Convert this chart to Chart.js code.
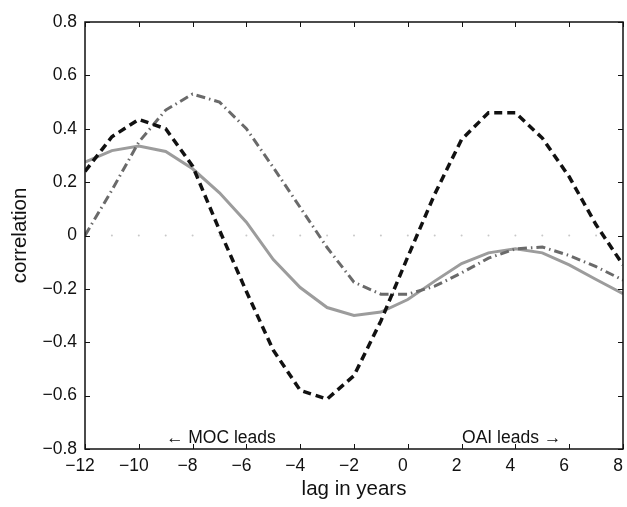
<!DOCTYPE html>
<html>
<head>
<meta charset="utf-8">
<script src="https://cdn.jsdelivr.net/npm/chart.js@4.4.1/dist/chart.umd.min.js"></script>
<style>
  html, body { margin: 0; padding: 0; background: #fff; }
  #wrap { width: 627px; height: 507px; }
</style>
</head>
<body>
<div id="wrap"><canvas id="c" width="627" height="507"></canvas></div>
<script>
// lag in years (categories)
const lags = [-12,-11,-10,-9,-8,-7,-6,-5,-4,-3,-2,-1,0,1,2,3,4,5,6,7,8];

// black dashed series
const seriesDashed = [0.24,0.37,0.435,0.40,0.26,0.02,-0.21,-0.43,-0.58,-0.613,-0.525,-0.32,-0.08,0.155,0.36,0.46,0.46,0.365,0.22,0.04,-0.11];
// dark grey dash-dot series
const seriesDashDot = [0.0,0.17,0.35,0.47,0.53,0.50,0.40,0.255,0.105,-0.045,-0.175,-0.22,-0.22,-0.19,-0.14,-0.085,-0.05,-0.043,-0.075,-0.117,-0.167];
// light grey solid series
const seriesSolid = [0.275,0.318,0.335,0.315,0.25,0.16,0.05,-0.09,-0.195,-0.27,-0.30,-0.287,-0.24,-0.171,-0.105,-0.065,-0.05,-0.065,-0.11,-0.165,-0.218];

// axis ticks
const xTicks = [-12,-10,-8,-6,-4,-2,0,2,4,6,8];
const yTicks = [-0.8,-0.6,-0.4,-0.2,0,0.2,0.4,0.6,0.8];

const xTitle = 'lag in years';
const yTitle = 'correlation';
const leftNote = '← MOC leads';
const rightNote = 'OAI leads →';

const FONT = '"Liberation Sans", Arial, Helvetica, sans-serif';
const minus = s => String(s).replace('-', '\u2212');

const frameTicks = {
  id: 'frameTicks',
  afterDatasetsDraw(chart) {
    const {ctx, chartArea: a, scales: {x, y}} = chart;
    ctx.save();
    ctx.strokeStyle = '#111';
    ctx.lineWidth = 1.5;
    ctx.strokeRect(a.left, a.top, a.right - a.left, a.bottom - a.top);
    ctx.lineWidth = 1;
    const L = 5;
    ctx.beginPath();
    x.ticks.forEach(t => {
      const px = Math.round(x.getPixelForValue(t.value)) + 0.5;
      ctx.moveTo(px, a.bottom); ctx.lineTo(px, a.bottom - L);
      ctx.moveTo(px, a.top); ctx.lineTo(px, a.top + L);
    });
    y.ticks.forEach(t => {
      const py = Math.round(y.getPixelForValue(t.value)) + 0.5;
      ctx.moveTo(a.left, py); ctx.lineTo(a.left + L, py);
      ctx.moveTo(a.right, py); ctx.lineTo(a.right - L, py);
    });
    ctx.stroke();
    ctx.font = '17.5px ' + FONT;
    ctx.fillStyle = '#111';
    ctx.textAlign = 'center';
    ctx.textBaseline = 'alphabetic';
    ctx.fillText(leftNote, x.getPixelForValue(-6.95), a.bottom - 6);
    ctx.fillText(rightNote, x.getPixelForValue(3.86), a.bottom - 6);
    ctx.restore();
  }
};

new Chart(document.getElementById('c'), {
  type: 'line',
  data: {
    labels: lags,
    datasets: [
      { label: 'dashed', data: seriesDashed, borderColor: '#111', borderWidth: 3.5, borderDash: [8, 5], pointRadius: 0, tension: 0, fill: false },
      { label: 'dash-dot', data: seriesDashDot, borderColor: '#6a6a6a', borderWidth: 3, borderDash: [9, 4, 1.5, 4], pointRadius: 0, tension: 0, fill: false },
      { label: 'solid', data: seriesSolid, borderColor: '#9c9c9c', borderWidth: 3, pointRadius: 0, tension: 0, fill: false },
      { label: 'zero', data: lags.map(() => 0), showLine: false, pointRadius: 1, pointBorderWidth: 0, pointBackgroundColor: '#c8c8c8', pointBorderColor: '#c8c8c8' }
    ]
  },
  options: {
    responsive: false,
    animation: false,
    devicePixelRatio: 1,
    layout: { padding: { top: 22, right: 1, left: 0, bottom: 0 } },
    plugins: { legend: { display: false }, tooltip: { enabled: false } },
    scales: {
      x: {
        type: 'linear',
        min: -12, max: 8,
        afterBuildTicks: s => { s.ticks = xTicks.map(v => ({ value: v })); },
        afterFit: s => { s.height = 58; s.paddingLeft = 0; s.paddingRight = 0; },
        grid: { display: false, drawTicks: false },
        border: { display: false },
        ticks: { padding: 7, labelOffset: -5, maxRotation: 0, autoSkip: false, color: '#111', font: { family: FONT, size: 17.5 }, callback: v => minus(v) },
        title: { display: true, text: xTitle, color: '#111', font: { family: FONT, size: 20.5 }, padding: { top: 0, bottom: 5 } }
      },
      y: {
        type: 'linear',
        min: -0.8, max: 0.8,
        afterBuildTicks: s => { s.ticks = yTicks.map(v => ({ value: v })); },
        afterFit: s => { s.width = 85; },
        grid: { display: false, drawTicks: false },
        border: { display: false },
        ticks: { padding: 8, autoSkip: false, color: '#111', font: { family: FONT, size: 17.5 }, callback: v => v === 0 ? '0' : minus(Number(v).toFixed(1)) },
        title: { display: true, text: yTitle, color: '#111', font: { family: FONT, size: 20.5 }, padding: { top: 8, bottom: 0 } }
      }
    }
  },
  plugins: [frameTicks]
});
</script>
</body>
</html>
